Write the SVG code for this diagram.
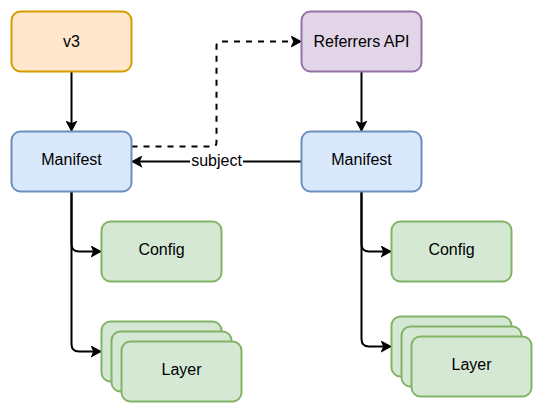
<svg xmlns="http://www.w3.org/2000/svg" width="542" height="412" viewBox="0 0 542 412">
  <style>
    .box { stroke-width: 2; }
    .orange { fill: #ffe6cc; stroke: #d79b00; }
    .purple { fill: #e1d5e7; stroke: #9673a6; }
    .blue { fill: #dae8fc; stroke: #6c8ebf; }
    .green { fill: #d5e8d4; stroke: #82b366; }
    .lbl { font-family: "Liberation Sans", Arial, Helvetica, sans-serif; font-size: 16px; fill: #000000; text-anchor: middle; }
    .edge { fill: none; stroke: #000000; stroke-width: 2; }
    .dash { stroke-dasharray: 6 6; }
  </style>
  <defs>
    <marker id="arrow" markerUnits="userSpaceOnUse" viewBox="0 0 12 12" markerWidth="12" markerHeight="12" refX="10" refY="6" orient="auto">
      <path d="M1.5 1.5 L10 6 L1.5 10.5 L3.5 6 Z" fill="#000000" stroke="#000000" stroke-width="1.5" stroke-linejoin="miter"/>
    </marker>
  </defs>
  <rect width="542" height="412" fill="#ffffff"/>

  <g id="connectors">
    <path class="edge" d="M71.5 71.5 L71.5 130.5" marker-end="url(#arrow)"/>
    <path class="edge" d="M361.5 71.5 L361.5 130.5" marker-end="url(#arrow)"/>
    <path class="edge" d="M71.5 191.5 L71.5 244 Q71.5 251.5 79 251.5 L100.5 251.5" marker-end="url(#arrow)"/>
    <path class="edge" d="M71.5 191.5 L71.5 344 Q71.5 351.5 79 351.5 L100.5 351.5" marker-end="url(#arrow)"/>
    <path class="edge" d="M361.5 191.5 L361.5 244 Q361.5 251.5 369 251.5 L390.5 251.5" marker-end="url(#arrow)"/>
    <path class="edge" d="M361.5 191.5 L361.5 339 Q361.5 346.5 369 346.5 L390.5 346.5" marker-end="url(#arrow)"/>
    <path class="edge dash" d="M131.5 146.5 L213 146.5 Q216.5 146.5 216.5 142 L216.5 46 Q216.5 41.5 221 41.5 L300.5 41.5" marker-end="url(#arrow)"/>
    <path class="edge" d="M301.5 161.5 L132.5 161.5" marker-end="url(#arrow)"/>
    <rect x="190" y="152" width="53" height="18" fill="#ffffff"/>
    <text class="lbl" x="216.5" y="166">subject</text>
  </g>

  <g id="v3">
    <rect class="box orange" x="11.5" y="11.5" width="120" height="60" rx="9"/>
    <text class="lbl" x="71.5" y="46.5">v3</text>
  </g>
  <g id="referrers-api">
    <rect class="box purple" x="301.5" y="11.5" width="120" height="60" rx="9"/>
    <text class="lbl" x="361.5" y="46.5">Referrers API</text>
  </g>
  <g id="manifest-left">
    <rect class="box blue" x="11.5" y="131.5" width="120" height="60" rx="9"/>
    <text class="lbl" x="71.5" y="165">Manifest</text>
  </g>
  <g id="manifest-right">
    <rect class="box blue" x="301.5" y="131.5" width="120" height="60" rx="9"/>
    <text class="lbl" x="361.5" y="165">Manifest</text>
  </g>
  <g id="config-left">
    <rect class="box green" x="101.5" y="221.5" width="120" height="60" rx="9"/>
    <text class="lbl" x="161.5" y="255">Config</text>
  </g>
  <g id="config-right">
    <rect class="box green" x="391.5" y="221.5" width="120" height="60" rx="9"/>
    <text class="lbl" x="451.5" y="255">Config</text>
  </g>
  <g id="layer-left">
    <rect class="box green" x="101.5" y="321.5" width="120" height="60" rx="9"/>
    <rect class="box green" x="111.5" y="331.5" width="120" height="60" rx="9"/>
    <rect class="box green" x="121.5" y="341.5" width="120" height="60" rx="9"/>
    <text class="lbl" x="181.5" y="375">Layer</text>
  </g>
  <g id="layer-right">
    <rect class="box green" x="391.5" y="316.5" width="120" height="60" rx="9"/>
    <rect class="box green" x="401.5" y="326.5" width="120" height="60" rx="9"/>
    <rect class="box green" x="411.5" y="336.5" width="120" height="60" rx="9"/>
    <text class="lbl" x="471.5" y="370">Layer</text>
  </g>
</svg>
